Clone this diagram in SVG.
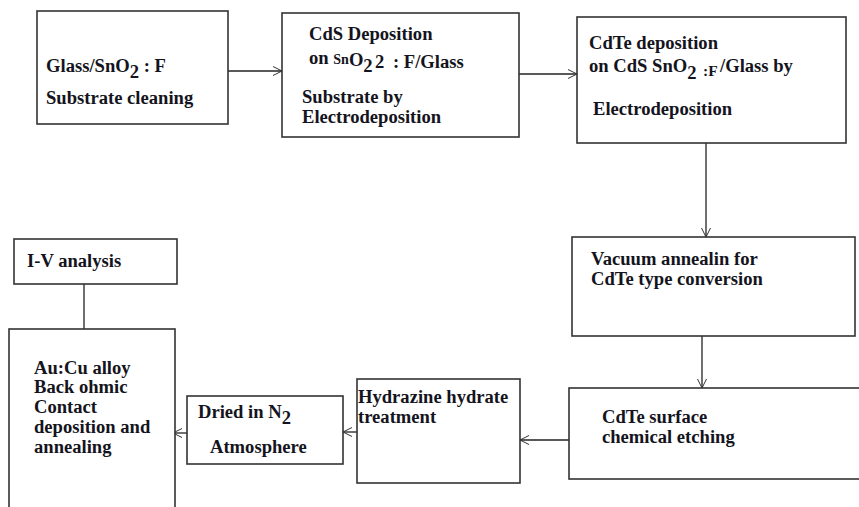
<svg xmlns="http://www.w3.org/2000/svg" width="859" height="507" viewBox="0 0 859 507">
<defs>
<style>
.box{fill:#fff;stroke:#333;stroke-width:1.6}
.t{font-family:"Liberation Serif","Times New Roman",serif;font-weight:bold;font-size:18.6px;fill:#141420}
.s{font-size:15.5px}
.c{stroke:#222;stroke-width:1.3;fill:none}
</style>
<marker id="ah" viewBox="-10 -6 12 12" refX="0" refY="0" markerWidth="12" markerHeight="12" markerUnits="userSpaceOnUse" orient="auto">
<path d="M-9,-4.5 L0,0 L-9,4.5" fill="none" stroke="#333" stroke-width="1"/>
</marker>
</defs>
<rect width="859" height="507" fill="#fff"/>
<g id="connectors">
<line class="c" x1="228" y1="71" x2="282" y2="71" marker-end="url(#ah)"/>
<line class="c" x1="519" y1="74" x2="577" y2="74" marker-end="url(#ah)"/>
<line class="c" x1="706" y1="143" x2="706" y2="237" marker-end="url(#ah)"/>
<line class="c" x1="702" y1="336" x2="702" y2="388" marker-end="url(#ah)"/>
<line class="c" x1="569" y1="440" x2="520" y2="440" marker-end="url(#ah)"/>
<line class="c" x1="357" y1="432" x2="343" y2="432" marker-end="url(#ah)"/>
<line class="c" x1="187" y1="433" x2="173" y2="433" marker-end="url(#ah)"/>
<line class="c" x1="84" y1="284" x2="84" y2="329"/>
</g>
<g id="n1">
<rect class="box" x="37" y="11" width="191" height="113"/>
<text class="t" x="46" y="72">Glass/SnO<tspan y="78">2</tspan><tspan y="72"> : F</tspan></text>
<text class="t" x="46" y="104">Substrate cleaning</text>
</g>
<g id="n2">
<rect class="box" x="282" y="13" width="237" height="124"/>
<text class="t" x="309" y="40">CdS Deposition</text>
<text class="t" x="309" y="64">on <tspan style="font-size:14px">Sn</tspan><tspan y="66">O</tspan><tspan y="72">2</tspan><tspan x="375" y="68">2</tspan><tspan x="393" y="68">: F/Glass</tspan></text>
<text class="t" x="302" y="103">Substrate by</text>
<text class="t" x="302" y="123">Electrodeposition</text>
</g>
<g id="n3">
<rect class="box" x="577" y="17" width="269" height="126"/>
<text class="t" x="589" y="49">CdTe deposition</text>
<text class="t" x="589" y="72">on CdS SnO<tspan y="79">2</tspan><tspan class="s" x="703" y="76">:F</tspan><tspan x="720" y="72">/Glass by</tspan></text>
<text class="t" x="593" y="115">Electrodeposition</text>
</g>
<g id="n4">
<rect class="box" x="572" y="237" width="283" height="99"/>
<text class="t" x="591" y="265">Vacuum annealin for</text>
<text class="t" x="591" y="285">CdTe type conversion</text>
</g>
<g id="n5">
<rect class="box" x="569" y="388" width="300" height="91"/>
<text class="t" x="602" y="423">CdTe surface</text>
<text class="t" x="602" y="443">chemical etching</text>
</g>
<g id="n6">
<rect class="box" x="357" y="379" width="163" height="104"/>
<text class="t" x="358" y="403">Hydrazine hydrate</text>
<text class="t" x="358" y="423">treatment</text>
</g>
<g id="n7">
<rect class="box" x="187" y="396" width="156" height="68"/>
<text class="t" x="198" y="418">Dried in N<tspan y="424">2</tspan></text>
<text class="t" x="210" y="453">Atmosphere</text>
</g>
<g id="n8">
<rect class="box" x="9" y="329" width="166" height="190"/>
<text class="t" x="34" y="374">Au:Cu alloy</text>
<text class="t" x="34" y="393">Back ohmic</text>
<text class="t" x="34" y="413">Contact</text>
<text class="t" x="34" y="433">deposition and</text>
<text class="t" x="34" y="453">annealing</text>
</g>
<g id="n9">
<rect class="box" x="14" y="239" width="163" height="45"/>
<text class="t" x="27" y="267">I-V analysis</text>
</g>
</svg>
